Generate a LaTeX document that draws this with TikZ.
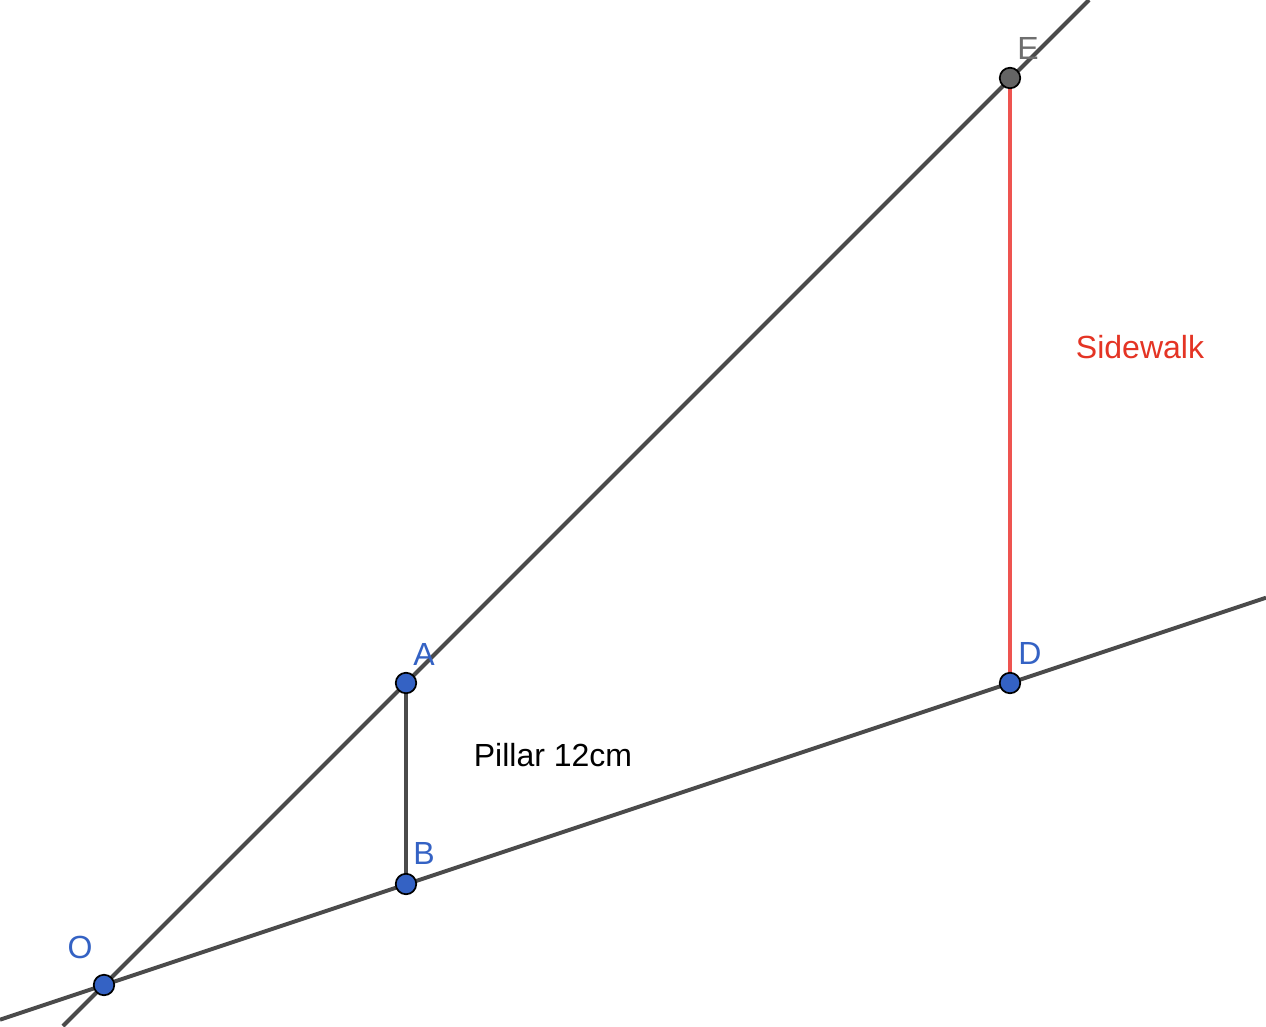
\documentclass[tikz,border=0pt]{standalone}
\usepackage{fontspec}
\setmainfont{Liberation Sans}
\definecolor{ptblue}{RGB}{52,98,196}
\definecolor{lngray}{RGB}{75,75,75}
\definecolor{segred}{RGB}{238,84,80}
\definecolor{txtred}{RGB}{228,52,36}
\definecolor{ptgray}{RGB}{100,100,100}
\definecolor{lblgray}{RGB}{110,110,110}
\tikzset{
  ln/.style={draw=lngray,line width=4pt},
  pt/.style={circle,draw=black,line width=1.7pt,fill=ptblue,minimum size=20.5pt,inner sep=0pt},
  lbl/.style={font=\fontsize{32}{38}\selectfont,inner sep=0pt},
}
\begin{document}
\begin{tikzpicture}[x=1pt,y=-1pt]
\useasboundingbox (0,0) rectangle (1266,1026);
\fill[white] (0,0) rectangle (1266,1026);
\coordinate (O) at (104,985);
\coordinate (B) at (406,884);
\coordinate (A) at (406,683);
\coordinate (D) at (1010,683);
\coordinate (E) at (1010,78);
\coordinate (L1a) at (63,1026);
\coordinate (L1b) at (1089,0);
\coordinate (L2a) at (0,1019.7);
\coordinate (L2b) at (1266,597.7);
\draw[ln] (L1a) -- (L1b);
\draw[ln] (L2a) -- (L2b);
\draw[ln] (A) -- (B);
\draw[draw=segred,line width=4pt] (D) -- (E);
\node[pt] (pO) at (O) {};
\node[pt] (pB) at (B) {};
\node[pt] (pA) at (A) {};
\node[pt] (pD) at (D) {};
\node[pt,fill=ptgray] (pE) at (E) {};
\node[lbl,text=ptblue] (tO) at (80,947) {O};
\node[lbl,text=ptblue] (tA) at (424,654) {A};
\node[lbl,text=ptblue] (tB) at (424,853) {B};
\node[lbl,text=ptblue] (tD) at (1030,653) {D};
\node[lbl,text=lblgray] (tE) at (1028,48) {E};
\node[lbl,text=black] (tP) at (553,755) {Pillar 12cm};
\node[lbl,text=txtred] (tS) at (1140,347) {Sidewalk};
\end{tikzpicture}
\end{document}
